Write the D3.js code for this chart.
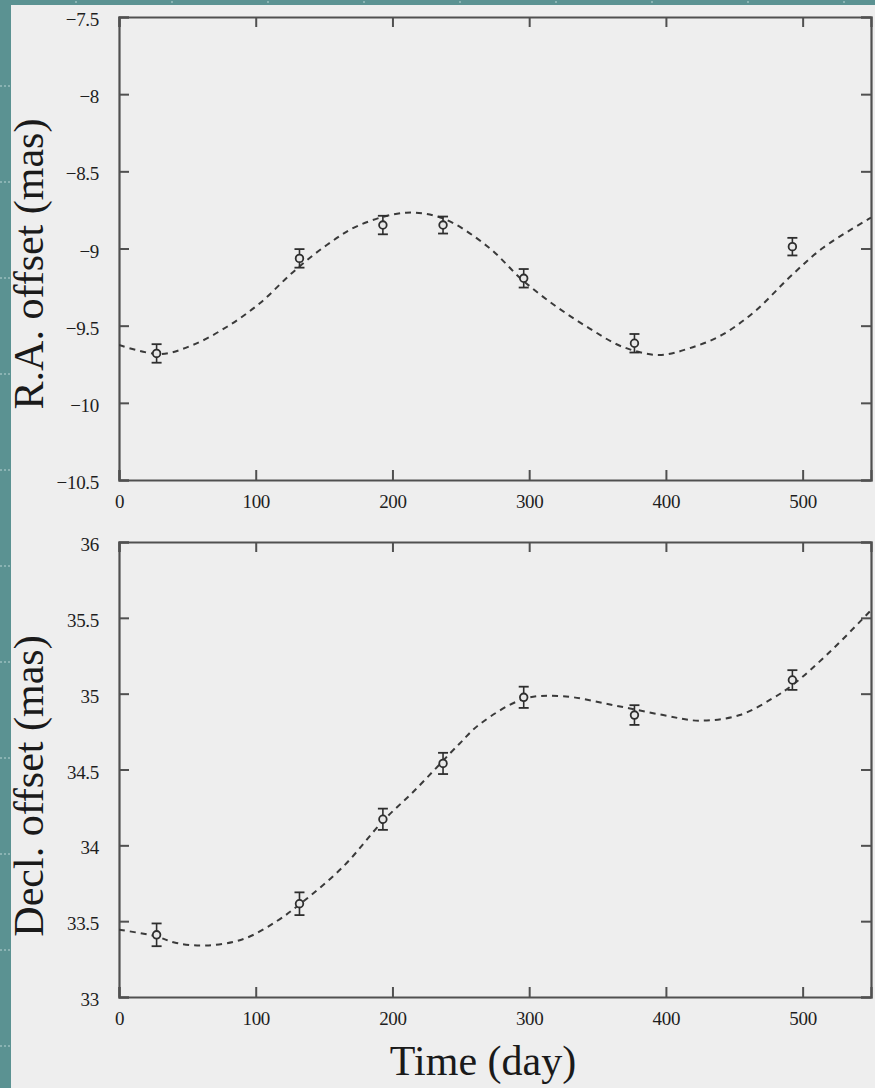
<!DOCTYPE html>
<html>
<head>
<meta charset="utf-8">
<script src="https://cdn.jsdelivr.net/npm/d3@7"></script>
<style>
  html, body { margin: 0; padding: 0; background: #5b9292; }
  svg { display: block; }
</style>
</head>
<body>
<svg id="chart" width="875" height="1088"></svg>
<script>
// ---------- data ----------
const days = [27.5, 132, 193, 237, 296, 377, 492.5];
const raOffset = [-9.68, -9.064, -8.848, -8.848, -9.193, -9.614, -8.988];
const raError = [0.06, 0.06, 0.06, 0.055, 0.06, 0.06, 0.057];
const declOffset = [33.41, 33.615, 34.172, 34.54, 34.976, 34.859, 35.09];
const declError = [0.075, 0.075, 0.07, 0.07, 0.07, 0.065, 0.065];

// fitted (dashed) curves
const raFitDays = [0, 30, 54, 79, 103, 127, 152, 176, 210, 237, 270, 295, 320, 344, 368, 395, 417, 441, 466, 490, 515, 550];
const raFit = [-9.625, -9.684, -9.625, -9.507, -9.355, -9.155, -8.977, -8.848, -8.768, -8.805, -8.99, -9.204, -9.377, -9.517, -9.636, -9.69, -9.647, -9.56, -9.40, -9.19, -8.995, -8.80];
const declFitDays = [0, 27, 42, 64, 91, 115, 132, 164, 193, 216, 249, 264, 296, 324, 361, 398, 424, 454, 478, 493, 520, 550];
const declFit = [33.444, 33.40, 33.356, 33.34, 33.382, 33.498, 33.61, 33.86, 34.16, 34.36, 34.67, 34.80, 34.965, 34.984, 34.925, 34.859, 34.822, 34.859, 34.969, 35.06, 35.276, 35.55];

const timeTicks = [0, 100, 200, 300, 400, 500];
const raTicks = [-7.5, -8, -8.5, -9, -9.5, -10, -10.5];
const raTickLabels = ["\u22127.5", "\u22128", "\u22128.5", "\u22129", "\u22129.5", "\u221210", "\u221210.5"];
const declTicks = [33, 33.5, 34, 34.5, 35, 35.5, 36];
const declTickLabels = ["33", "33.5", "34", "34.5", "35", "35.5", "36"];

// ---------- drawing ----------
const svg = d3.select("#chart");
const W = 875, H = 1088;
const serif = "'Liberation Serif', 'Times New Roman', serif";
const axisColor = "#505050";
const inkColor = "#2e2e2e";

// teal background + decorative dotted marks
svg.append("rect").attr("width", W).attr("height", H).attr("fill", "#5b9292");
const deco = svg.append("g").attr("stroke", "#b9d3d3").attr("stroke-width", 1.2);
d3.range(86, H, 96).forEach(y => {
  deco.append("line").attr("x1", 0).attr("x2", 11).attr("y1", y).attr("y2", y)
    .attr("stroke-dasharray", "2,2");
});
d3.range(76, W, 96).forEach(x => {
  deco.append("line").attr("x1", x - 1).attr("x2", x + 1).attr("y1", 2).attr("y2", 2);
});
// light panel
svg.append("rect").attr("x", 11).attr("y", 5).attr("width", W - 11).attr("height", H - 5).attr("fill", "#eeeeee");

const plotLeft = 119, plotRight = 871;

function panel(opts) {
  const x = d3.scaleLinear().domain([0, 550]).range([plotLeft, plotRight]);
  const y = d3.scaleLinear().domain(opts.yDomain).range([opts.bottom, opts.top]);
  const g = svg.append("g");
  const clipId = "clip" + opts.id;
  svg.append("clipPath").attr("id", clipId).append("rect")
    .attr("x", plotLeft).attr("y", opts.top).attr("width", plotRight - plotLeft).attr("height", opts.bottom - opts.top);

  // axes with inward ticks
  const tickLen = 10;
  const axB = g.append("g").attr("transform", `translate(0,${opts.bottom})`)
    .call(d3.axisBottom(x).tickValues(timeTicks).tickSize(-tickLen).tickPadding(tickLen + 8).tickFormat(d3.format("d")));
  const axT = g.append("g").attr("transform", `translate(0,${opts.top})`)
    .call(d3.axisTop(x).tickValues(timeTicks).tickSize(-tickLen).tickFormat(""));
  const axL = g.append("g").attr("transform", `translate(${plotLeft},0)`)
    .call(d3.axisLeft(y).tickValues(opts.ticks).tickSize(-tickLen).tickPadding(tickLen + 10)
      .tickFormat((d, i) => opts.labels[i]));
  const axR = g.append("g").attr("transform", `translate(${plotRight},0)`)
    .call(d3.axisRight(y).tickValues(opts.ticks).tickSize(-tickLen).tickFormat(""));
  [axB, axT, axL, axR].forEach(a => {
    a.select(".domain").attr("stroke", axisColor).attr("stroke-width", 2.2);
    a.selectAll(".tick line").attr("stroke", axisColor).attr("stroke-width", 2);
    a.selectAll("text").attr("font-family", serif).attr("font-size", 19).attr("fill", "#1e1e1e")
      .attr("letter-spacing", "-0.3px");
  });
  axL.selectAll("text").attr("dy", "0.45em");
  axB.selectAll("text").attr("dy", "0.55em");

  // fitted dashed curve
  const line = d3.line().x((d, i) => x(opts.fitDays[i])).y(d => y(d)).curve(d3.curveCatmullRom.alpha(0.5));
  g.append("path").datum(opts.fit).attr("clip-path", `url(#${clipId})`)
    .attr("d", line).attr("fill", "none").attr("stroke", "#3a3a3a")
    .attr("stroke-width", 2).attr("stroke-dasharray", "6,5");

  // error bars + markers
  const pts = g.append("g").attr("stroke", inkColor).attr("fill", "none");
  days.forEach((t, i) => {
    const cx = x(t), v = opts.values[i], e = opts.errors[i];
    const y1 = y(v + e), y2 = y(v - e);
    pts.append("line").attr("x1", cx).attr("x2", cx).attr("y1", y1).attr("y2", y2).attr("stroke-width", 1.6);
    pts.append("line").attr("x1", cx - 5).attr("x2", cx + 5).attr("y1", y1).attr("y2", y1).attr("stroke-width", 1.8);
    pts.append("line").attr("x1", cx - 5).attr("x2", cx + 5).attr("y1", y2).attr("y2", y2).attr("stroke-width", 1.8);
    pts.append("circle").attr("cx", cx).attr("cy", y(v)).attr("r", 3.8)
      .attr("stroke-width", 1.8).attr("fill", "#e8e8e8");
  });

  // y title
  svg.append("text")
    .attr("transform", `translate(43,${opts.titleY}) rotate(-90)`)
    .attr("text-anchor", "middle").attr("font-family", serif).attr("font-size", 42)
    .attr("fill", "#1a1a1a").text(opts.title);
}

panel({ id: "ra", top: 17, bottom: 480, yDomain: [-10.5, -7.5], ticks: raTicks, labels: raTickLabels,
  values: raOffset, errors: raError, fitDays: raFitDays, fit: raFit, title: "R.A. offset (mas)", titleY: 264 });
panel({ id: "decl", top: 542, bottom: 997, yDomain: [33, 36], ticks: declTicks, labels: declTickLabels,
  values: declOffset, errors: declError, fitDays: declFitDays, fit: declFit, title: "Decl. offset (mas)", titleY: 786 });

svg.append("text").attr("x", 483).attr("y", 1075).attr("text-anchor", "middle")
  .attr("font-family", serif).attr("font-size", 42).attr("fill", "#1a1a1a").text("Time (day)");
</script>
</body>
</html>
